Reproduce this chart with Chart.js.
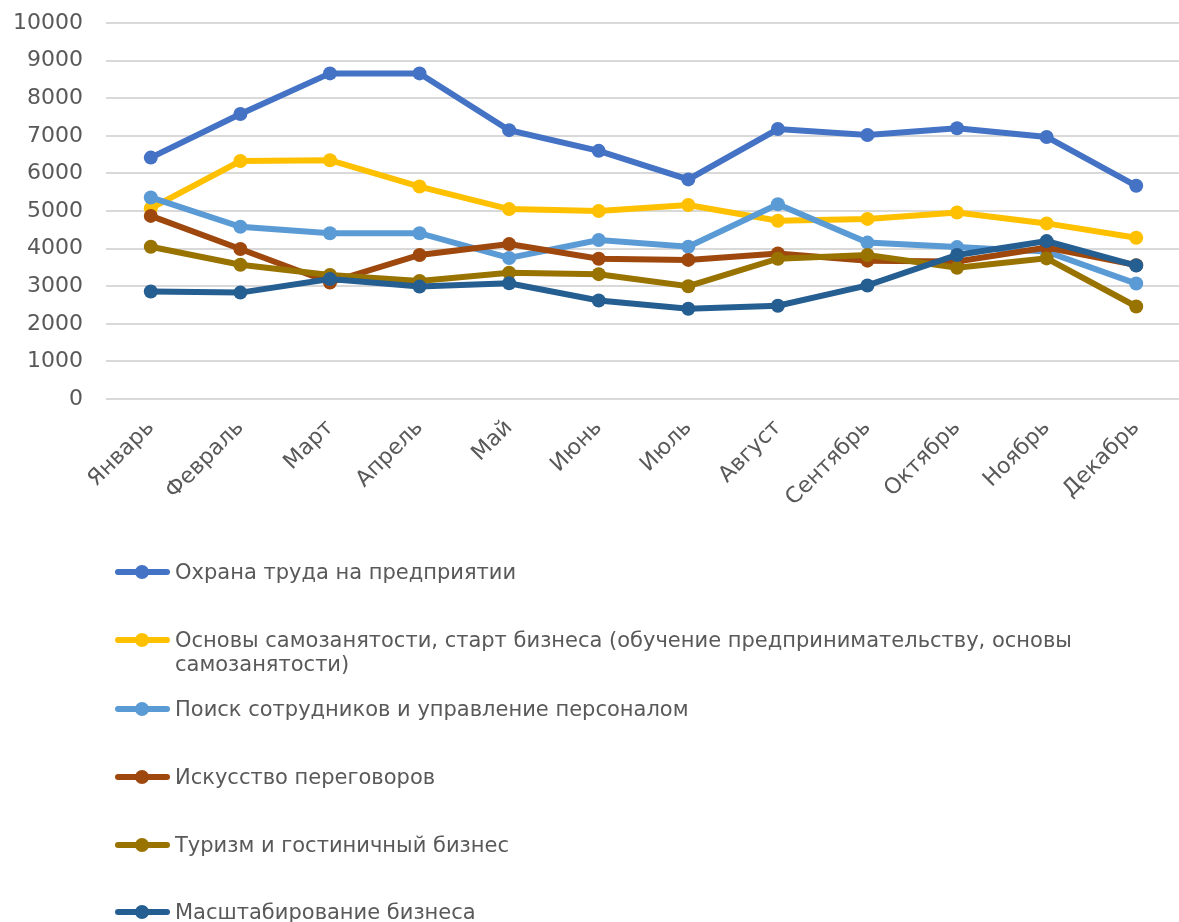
<!DOCTYPE html>
<html>
<head>
<meta charset="utf-8">
<script src="https://cdn.jsdelivr.net/npm/chart.js@4"></script>
<style>
  html, body { margin: 0; padding: 0; background: #fff; width: 1179px; height: 922px; overflow: hidden; }
  #wrap { position: absolute; left: 0; top: 0; width: 1188px; height: 540px; }
  #legend { position: absolute; left: 0; top: 0; width: 1179px; height: 922px; pointer-events: none;
            font-family: "DejaVu Sans", sans-serif; font-size: 21px; color: #595959; }
  .sample { position: absolute; left: 115px; width: 55px; height: 6px; border-radius: 3px; }
  .dot { position: absolute; left: 135px; width: 14px; height: 14px; border-radius: 7px; }
  .txt { position: absolute; left: 175px; white-space: nowrap; line-height: 24px; }
</style>
</head>
<body>
<div id="wrap"><canvas id="c"></canvas></div>
<div id="legend"></div>
<script>
const months = ['Январь','Февраль','Март','Апрель','Май','Июнь','Июль','Август','Сентябрь','Октябрь','Ноябрь','Декабрь'];
const yTicks = [0,1000,2000,3000,4000,5000,6000,7000,8000,9000,10000];

const seriesNames = [
  'Охрана труда на предприятии',
  'Основы самозанятости, старт бизнеса (обучение предпринимательству, основы\nсамозанятости)',
  'Поиск сотрудников и управление персоналом',
  'Искусство переговоров',
  'Туризм и гостиничный бизнес',
  'Масштабирование бизнеса'
];
const seriesColors = ['#4472C4','#FFC000','#5B9BD5','#9E480E','#997300','#255E91'];

const ohrana    = [6420, 7580, 8660, 8660, 7150, 6600, 5840, 7180, 7020, 7200, 6970, 5670];
const osnovy    = [5070, 6330, 6350, 5650, 5050, 5000, 5160, 4740, 4790, 4960, 4670, 4290];
const poisk     = [5360, 4580, 4410, 4410, 3750, 4230, 4050, 5180, 4160, 4040, 3920, 3070];
const iskusstvo = [4870, 3990, 3100, 3830, 4120, 3730, 3700, 3870, 3680, 3660, 4030, 3560];
const turizm    = [4050, 3570, 3300, 3140, 3360, 3320, 3000, 3730, 3830, 3490, 3740, 2460];
const masht     = [2860, 2830, 3190, 2990, 3080, 2620, 2400, 2480, 3020, 3830, 4200, 3550];

const seriesValues = [ohrana, osnovy, poisk, iskusstvo, turizm, masht];

const datasets = seriesValues.map((vals, i) => ({
  label: seriesNames[i].replace('\n', ' '),
  data: vals,
  borderColor: seriesColors[i],
  backgroundColor: seriesColors[i],
  pointBackgroundColor: seriesColors[i],
  pointBorderColor: seriesColors[i],
  borderWidth: 6,
  pointRadius: 7,
  pointBorderWidth: 0,
  pointHoverRadius: 7,
  tension: 0,
  fill: false,
  order: seriesValues.length - i
}));

const yFont = { family: '"DejaVu Sans", sans-serif', size: 22 };
const xFont = { family: '"DejaVu Sans", sans-serif', size: 22 };

new Chart(document.getElementById('c'), {
  type: 'line',
  data: { labels: months, datasets },
  options: {
    responsive: true,
    maintainAspectRatio: false,
    animation: false,
    layout: { padding: { top: 23, left: 0, right: 0, bottom: 0 } },
    plugins: { legend: { display: false }, tooltip: { enabled: false } },
    scales: {
      x: {
        offset: true,
        grid: { display: false, drawTicks: false },
        border: { display: false },
        ticks: { font: xFont, color: '#595959', maxRotation: 45, minRotation: 45, autoSkip: false, padding: 16 },
        afterFit: (s) => { s.height = 141; s.paddingLeft = 0; s.paddingRight = 0; }
      },
      y: {
        min: 0, max: 10000,
        afterBuildTicks: (s) => { s.ticks = yTicks.map(v => ({ value: v })); },
        grid: { color: '#D9D9D9', lineWidth: 2, drawTicks: false },
        border: { display: false },
        ticks: { font: yFont, color: '#595959', padding: 23, callback: (v) => String(v) },
        afterFit: (s) => { s.width = 106; s.paddingTop = 0; s.paddingBottom = 0; }
      }
    }
  }
});

// legend
const legend = document.getElementById('legend');
const rowsY = [572, 640, 709, 777, 845, 912];
seriesNames.forEach((name, i) => {
  const y = rowsY[i];
  const s = document.createElement('div');
  s.className = 'sample';
  s.style.top = (y - 3) + 'px';
  s.style.background = seriesColors[i];
  const d = document.createElement('div');
  d.className = 'dot';
  d.style.top = (y - 7) + 'px';
  d.style.background = seriesColors[i];
  const t = document.createElement('div');
  t.className = 'txt';
  t.style.top = (y - 12) + 'px';
  name.split('\n').forEach((line, k) => {
    if (k) t.appendChild(document.createElement('br'));
    t.appendChild(document.createTextNode(line));
  });
  legend.appendChild(s); legend.appendChild(d); legend.appendChild(t);
});
</script>
</body>
</html>
